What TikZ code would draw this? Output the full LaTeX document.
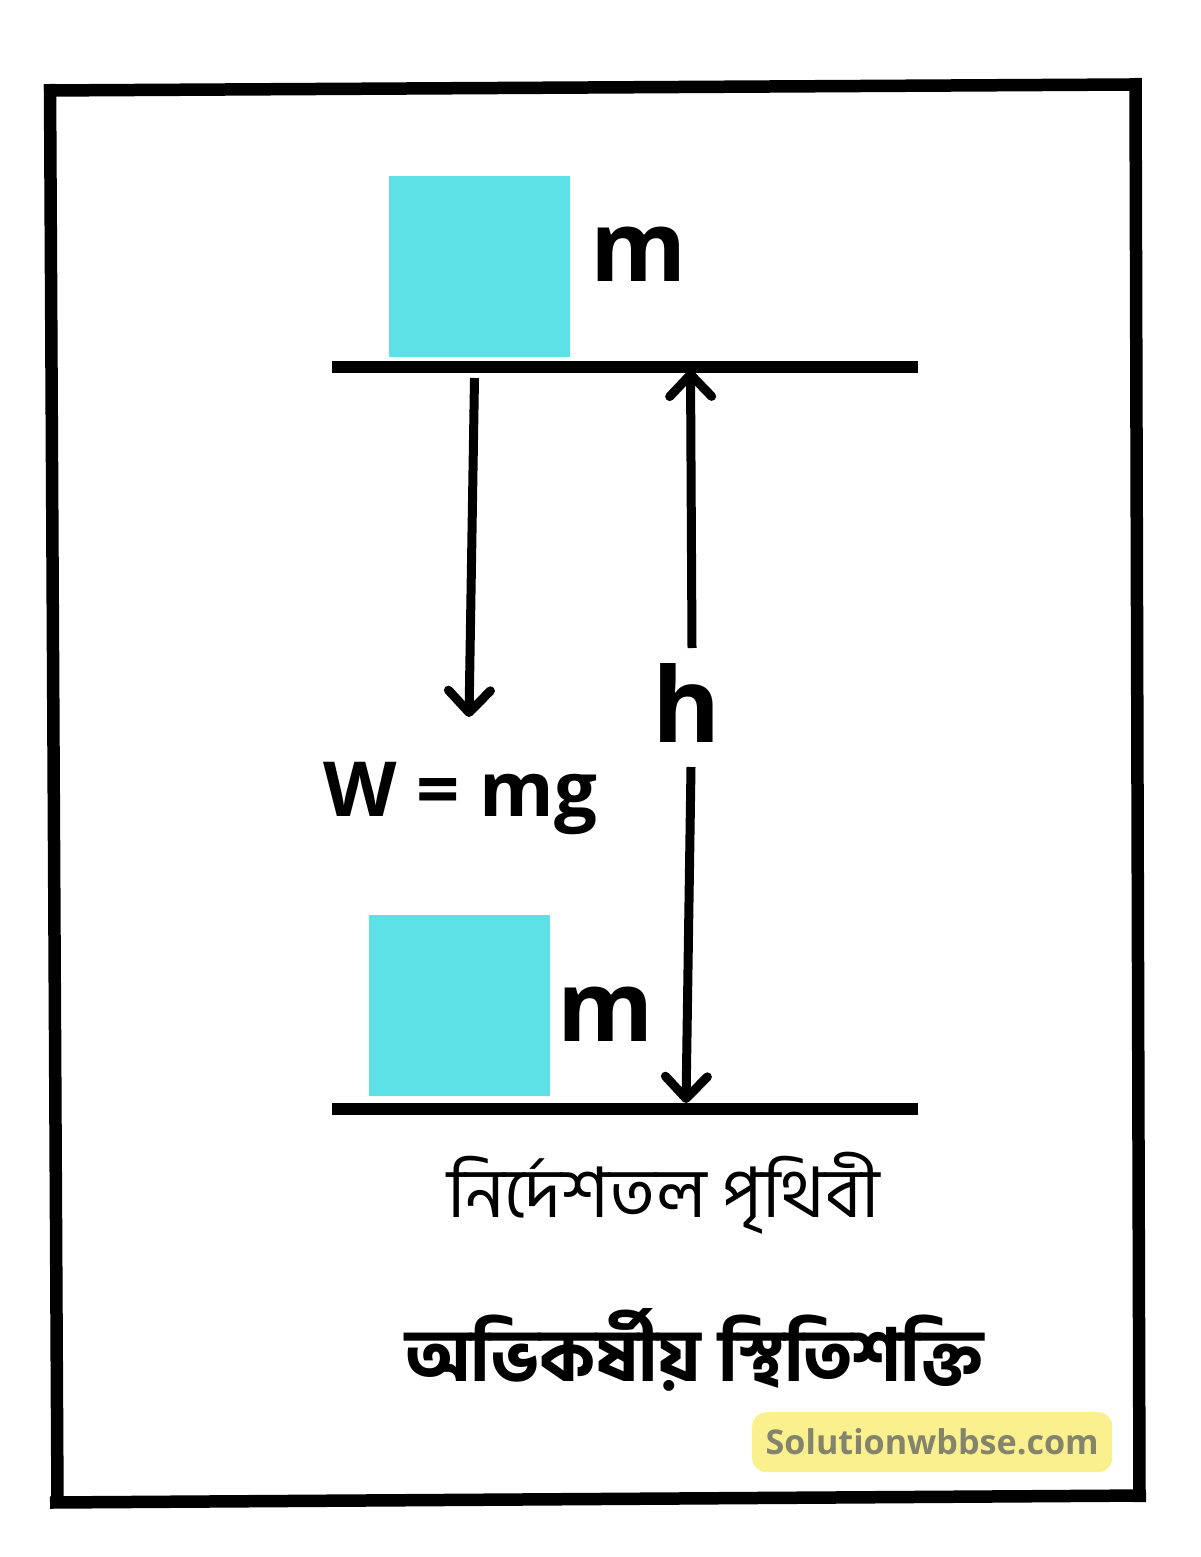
\documentclass[tikz,border=0pt]{standalone}
\usepackage{fontspec}
\setmainfont{Open Sans}
\newfontfamily\bnfont[Script=Bengali]{Hind Siliguri}
\newfontfamily\bnboldfont[Script=Bengali,UprightFont=* Bold]{Hind Siliguri}
\usetikzlibrary{arrows.meta}
\definecolor{blockcyan}{HTML}{5EE1E6}
\definecolor{markyellow}{HTML}{FAF08E}
\definecolor{markgray}{HTML}{84836C}
\tikzset{
  framestroke/.style={line width=12.5pt},
  groundline/.style={line width=12pt},
  block/.style={fill=blockcyan, draw=none, minimum width=181pt, minimum height=181pt, inner sep=0pt, anchor=north west},
  forcearrow/.style={line width=9pt, -{Straight Barb[length=22pt,width=42pt,round]}},
  bigletter/.style={font=\fontsize{98}{100}\selectfont\bfseries, inner sep=0pt},
}
\begin{document}
\begin{tikzpicture}[x=1pt,y=-1pt]
\useasboundingbox (0,0) rectangle (1200,1557);
% frame
\draw[framestroke] (44,90.5) -- (1133,84.5);
\draw[framestroke] (50,84) -- (57.5,1503);
\draw[framestroke] (50,1502.5) -- (1146,1495.5);
\draw[framestroke] (1135.5,78) -- (1139.5,1502);
% blocks
\node[block] (b1) at (389,176) {};
\node[block] (b2) at (369,915) {};
\node[bigletter, anchor=base west] (m1) at (590,281) {m};
\node[bigletter, anchor=base west] (m2) at (557,1041) {m};
% ground lines
\coordinate (t1) at (332,367);
\coordinate (t2) at (918,367);
\coordinate (g1) at (332,1109);
\coordinate (g2) at (918,1109);
\draw[groundline] (t1) -- (t2);
\draw[groundline] (g1) -- (g2);
% weight arrow
\coordinate (wa) at (474.5,378);
\coordinate (wb) at (469,717);
\draw[forcearrow] (wa) -- (wb);
\node[font=\fontsize{76}{78}\selectfont\bfseries, inner sep=0pt, anchor=base west] (w) at (323,816) {W = mg};
% height arrows
\node[font=\fontsize{104}{106}\selectfont\bfseries, inner sep=0pt, anchor=base] (h) at (687,742) {h};
\coordinate (hu0) at (692,648);
\coordinate (hu1) at (690.5,370);
\coordinate (hd0) at (691,767);
\coordinate (hd1) at (686,1103);
\draw[forcearrow] (hu0) -- (hu1);
\draw[forcearrow] (hd0) -- (hd1);
% labels
\node[inner sep=0pt, anchor=west] (ref) at (447,1193) {\resizebox{433pt}{!}{\bnfont নির্দেশতল পৃথিবী}};
\node[inner sep=0pt, anchor=west] (title) at (405,1350) {\resizebox{578pt}{!}{\bnboldfont অভিকর্ষীয় স্থিতিশক্তি}};
% watermark
\node[fill=markyellow, rounded corners=14pt, minimum width=360pt, minimum height=60pt, inner sep=0pt, anchor=north west] (wm) at (752,1412) {};
\node[text=markgray, inner sep=0pt] (wmt) at (wm.center) {\resizebox{333pt}{!}{\bfseries Solutionwbbse.com}};
\end{tikzpicture}
\end{document}
